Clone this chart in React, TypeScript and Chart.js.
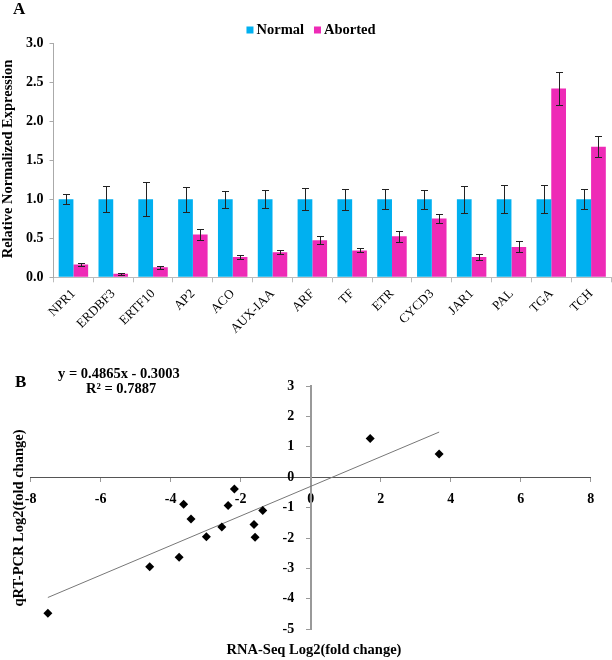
import React, { useEffect, useRef } from 'react';
import { Chart, registerables } from 'chart.js';

Chart.register(...registerables);

const FONT = "'Liberation Serif', 'Times New Roman', serif";

// ---------- Panel A data ----------
const genes = ['NPR1', 'ERDBF3', 'ERTF10', 'AP2', 'ACO', 'AUX-IAA', 'ARF', 'TF', 'ETR', 'CYCD3', 'JAR1', 'PAL', 'TGA', 'TCH'];
const normalValues = [1, 1, 1, 1, 1, 1, 1, 1, 1, 1, 1, 1, 1, 1];
const normalErrors = [0.066, 0.165, 0.22, 0.16, 0.11, 0.115, 0.14, 0.135, 0.13, 0.125, 0.17, 0.18, 0.18, 0.13];
const abortedValues = [0.165, 0.045, 0.13, 0.55, 0.26, 0.32, 0.475, 0.345, 0.525, 0.755, 0.26, 0.39, 2.42, 1.675];
const abortedErrors = [0.02, 0.015, 0.02, 0.075, 0.025, 0.025, 0.05, 0.025, 0.075, 0.06, 0.035, 0.07, 0.21, 0.135];
const yTicksA = [0, 0.5, 1.0, 1.5, 2.0, 2.5, 3.0];

// ---------- Panel B data ----------
const rnaSeqLog2 = [-7.51, -4.6, -3.76, -3.63, -3.42, -2.98, -2.54, -2.36, -2.18, -1.62, -1.59, -1.37, 1.7, 3.67];
const qpcrLog2 = [-4.47, -2.94, -2.63, -0.89, -1.37, -1.96, -1.64, -0.93, -0.39, -1.55, -1.97, -1.09, 1.27, 0.76];
const trendSlope = 0.4865;
const trendIntercept = -0.3003;
const rSquared = 0.7887;
const xTicksB = [-8, -6, -4, -2, 0, 2, 4, 6, 8];
const yTicksB = [-5, -4, -3, -2, -1, 0, 1, 2, 3];

const BLUE = '#00B0F0';
const PINK = '#EE2AB6';

const W = 612;
const HA = 340;
const TOP_B = 340;
const HB = 320;

const errorBarPlugin = {
  id: 'errorBars',
  afterDatasetsDraw(chart: any) {
    const { ctx } = chart;
    const yScale = chart.scales.y;
    ctx.save();
    ctx.strokeStyle = '#222';
    ctx.lineWidth = 1;
    chart.data.datasets.forEach((ds: any, i: number) => {
      const meta = chart.getDatasetMeta(i);
      meta.data.forEach((el: any, j: number) => {
        const v = ds.data[j];
        const e = ds.errors[j];
        const x = Math.round(el.x) + 0.5;
        const yt = Math.round(yScale.getPixelForValue(v + e)) + 0.5;
        const yb = Math.round(yScale.getPixelForValue(v - e)) + 0.5;
        ctx.beginPath();
        ctx.moveTo(x, yt);
        ctx.lineTo(x, yb);
        ctx.moveTo(x - 3.5, yt);
        ctx.lineTo(x + 3.5, yt);
        ctx.moveTo(x - 3.5, yb);
        ctx.lineTo(x + 3.5, yb);
        ctx.stroke();
      });
    });
    ctx.restore();
  },
};

const textAPlugin = {
  id: 'textA',
  afterDraw(chart: any) {
    const { ctx } = chart;
    ctx.save();
    ctx.fillStyle = '#000';
    ctx.font = `bold 17px ${FONT}`;
    ctx.textAlign = 'left';
    ctx.textBaseline = 'middle';
    ctx.fillText('A', 13, 10);
    ctx.save();
    ctx.translate(8, 159);
    ctx.rotate(-Math.PI / 2);
    ctx.font = `bold 14.5px ${FONT}`;
    ctx.textAlign = 'center';
    ctx.textBaseline = 'middle';
    ctx.fillText('Relative Normalized Expression', 0, 0);
    ctx.restore();
    // Legend
    ctx.font = `bold 14.5px ${FONT}`;
    ctx.textBaseline = 'middle';
    const items = chart.data.datasets.map((d: any) => ({ label: d.label, color: d.backgroundColor }));
    const box = 7, gap = 3, itemGap = 10;
    const widths = items.map((it: any) => box + gap + ctx.measureText(it.label).width);
    const total = widths.reduce((a: number, b: number) => a + b, 0) + itemGap * (items.length - 1);
    let x = 311 - total / 2;
    const yc = 30;
    items.forEach((it: any, i: number) => {
      ctx.fillStyle = it.color;
      ctx.fillRect(x, yc - box / 2, box, box);
      ctx.fillStyle = '#000';
      ctx.textAlign = 'left';
      ctx.fillText(it.label, x + box + gap, yc);
      x += widths[i] + itemGap;
    });
    ctx.restore();
  },
};

const textBPlugin = {
  id: 'textB',
  afterDraw(chart: any) {
    const { ctx } = chart;
    const xs = chart.scales.x;
    const ys = chart.scales.y;
    ctx.save();
    ctx.fillStyle = '#000';
    ctx.textAlign = 'left';
    ctx.textBaseline = 'middle';
    ctx.font = `bold 17px ${FONT}`;
    ctx.fillText('B', 15, 43);
    ctx.font = `bold 14.5px ${FONT}`;
    const sign = trendIntercept < 0 ? '-' : '+';
    ctx.fillText(`y = ${trendSlope}x ${sign} ${Math.abs(trendIntercept).toFixed(4)}`, 58, 34);
    ctx.fillText(`R² = ${rSquared}`, 86, 49);
    // y tick labels left of the centred axis
    const x0 = xs.getPixelForValue(0);
    ctx.textAlign = 'right';
    ctx.font = `bold 14px ${FONT}`;
    yTicksB.forEach((v) => {
      ctx.fillText(String(v), x0 - 16.5, ys.getPixelForValue(v));
    });
    // axis titles
    ctx.font = `bold 14.5px ${FONT}`;
    ctx.textAlign = 'center';
    ctx.fillText('RNA-Seq Log2(fold change)', 314, 310);
    ctx.save();
    ctx.translate(19, 178);
    ctx.rotate(-Math.PI / 2);
    ctx.fillText('qRT-PCR Log2(fold change)', 0, 0);
    ctx.restore();
    ctx.restore();
  },
};

export default function App() {
  const refA = useRef<HTMLCanvasElement>(null);
  const refB = useRef<HTMLCanvasElement>(null);

  useEffect(() => {
    const chartA = new Chart(refA.current as HTMLCanvasElement, {
      type: 'bar',
      data: {
        labels: genes,
        datasets: [
          { label: 'Normal', data: normalValues, backgroundColor: BLUE, borderWidth: 0, categoryPercentage: 0.74, barPercentage: 1, errors: normalErrors } as any,
          { label: 'Aborted', data: abortedValues, backgroundColor: PINK, borderWidth: 0, categoryPercentage: 0.74, barPercentage: 1, errors: abortedErrors } as any,
        ],
      },
      options: {
        animation: false,
        responsive: false,
        layout: { padding: { top: 43.3, right: 1, left: 0, bottom: 0 } },
        plugins: { legend: { display: false }, tooltip: { enabled: false } },
        scales: {
          x: {
            grid: { display: true, drawOnChartArea: false, offset: true, tickLength: 5, color: '#bbb' },
            border: { color: '#bbb', width: 1 },
            ticks: { maxRotation: 45, minRotation: 45, autoSkip: false, font: { family: FONT, size: 13 }, color: '#000', padding: 4 },
            afterFit: (s: any) => { s.height = HA - 277.3; },
          },
          y: {
            min: yTicksA[0],
            max: yTicksA[yTicksA.length - 1],
            ticks: { stepSize: 0.5, callback: (v: any) => Number(v).toFixed(1), font: { family: FONT, size: 14, weight: 'bold' }, color: '#000', padding: 6 },
            grid: { display: true, drawOnChartArea: false, tickLength: 4, color: '#aaa' },
            border: { color: '#aaa', width: 1 },
            afterFit: (s: any) => { s.width = 53.5; },
          },
        },
      } as any,
      plugins: [errorBarPlugin, textAPlugin],
    });

    const points = rnaSeqLog2.map((x, i) => ({ x, y: qpcrLog2[i] }));
    const xMin = Math.min(...rnaSeqLog2);
    const xMax = Math.max(...rnaSeqLog2);
    const trend = [
      { x: xMin, y: trendSlope * xMin + trendIntercept },
      { x: xMax, y: trendSlope * xMax + trendIntercept },
    ];

    const chartB = new Chart(refB.current as HTMLCanvasElement, {
      type: 'scatter',
      data: {
        datasets: [
          { type: 'scatter', label: 'Genes', data: points, pointStyle: 'rectRot', pointRadius: 4.5, backgroundColor: '#000', borderColor: '#000', borderWidth: 0, order: 1 } as any,
          { type: 'line', label: 'Linear', data: trend, borderColor: '#777', borderWidth: 1, pointRadius: 0, fill: false, showLine: true, order: 2 } as any,
        ],
      },
      options: {
        animation: false,
        responsive: false,
        layout: { padding: { top: 386 - TOP_B, right: 21.3, left: 30.7, bottom: TOP_B + HB - 629.3 } },
        plugins: { legend: { display: false }, tooltip: { enabled: false } },
        scales: {
          x: {
            type: 'linear',
            min: xTicksB[0],
            max: xTicksB[xTicksB.length - 1],
            position: { y: 0 },
            ticks: { stepSize: 2, font: { family: FONT, size: 14, weight: 'bold' }, color: '#000', padding: 10 },
            grid: { display: true, drawOnChartArea: false, tickLength: 4, color: '#999' },
            border: { color: '#555', width: 1 },
          },
          y: {
            type: 'linear',
            min: yTicksB[0],
            max: yTicksB[yTicksB.length - 1],
            position: { x: 0 },
            ticks: { stepSize: 1, display: false },
            grid: { display: true, drawOnChartArea: false, tickLength: 4, color: '#999' },
            border: { color: '#999', width: 2 },
          },
        },
      } as any,
      plugins: [textBPlugin],
    });

    return () => {
      chartA.destroy();
      chartB.destroy();
    };
  }, []);

  return (
    <div style={{ position: 'absolute', left: 0, top: 0, width: W, height: 660, background: '#fff' }}>
      <canvas ref={refA} width={W} height={HA} style={{ position: 'absolute', left: 0, top: 0, display: 'block' }} />
      <canvas ref={refB} width={W} height={HB} style={{ position: 'absolute', left: 0, top: TOP_B, display: 'block' }} />
    </div>
  );
}
